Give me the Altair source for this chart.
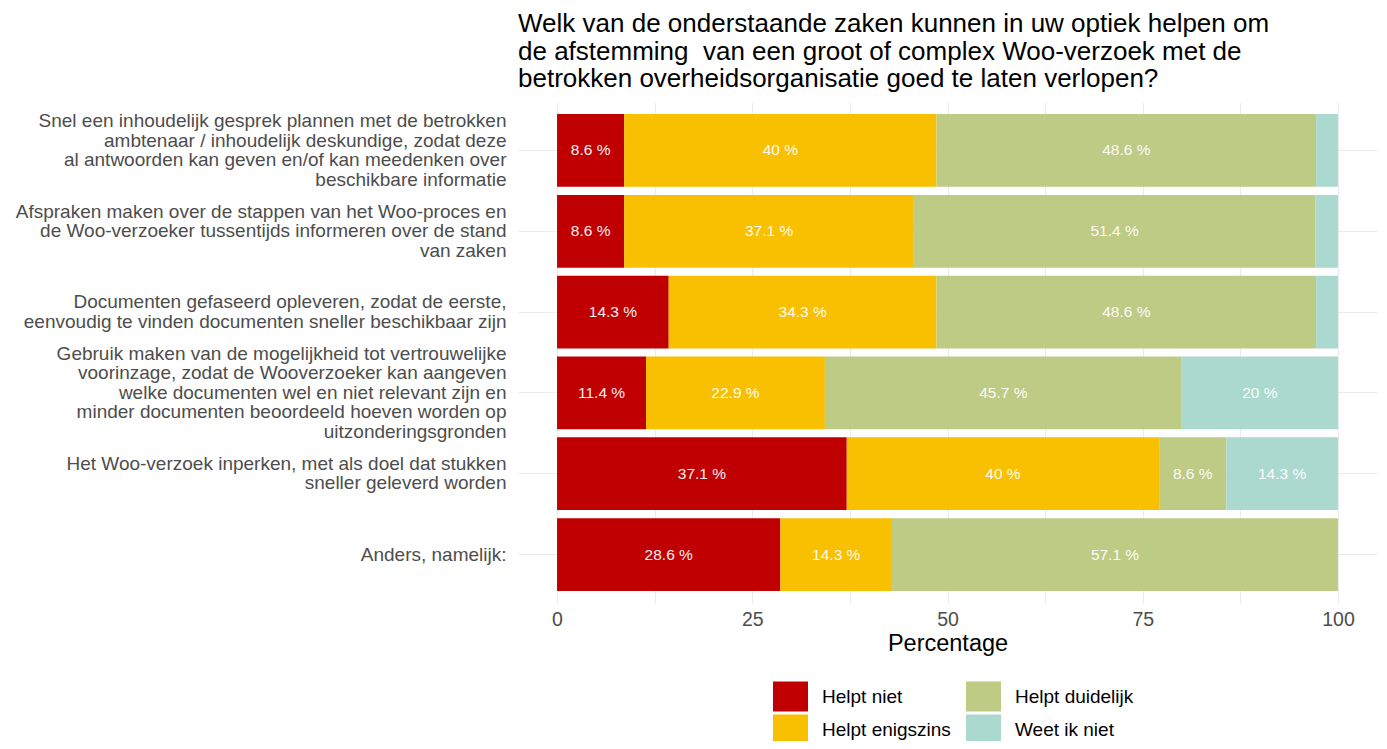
import altair as alt
import pandas as pd

questions = [
    "Snel een inhoudelijk gesprek plannen met de betrokken|ambtenaar / inhoudelijk deskundige, zodat deze|al antwoorden kan geven en/of kan meedenken over|beschikbare informatie",
    "Afspraken maken over de stappen van het Woo-proces en|de Woo-verzoeker tussentijds informeren over de stand|van zaken",
    "Documenten gefaseerd opleveren, zodat de eerste,|eenvoudig te vinden documenten sneller beschikbaar zijn",
    "Gebruik maken van de mogelijkheid tot vertrouwelijke|voorinzage, zodat de Wooverzoeker kan aangeven|welke documenten wel en niet relevant zijn en|minder documenten beoordeeld hoeven worden op|uitzonderingsgronden",
    "Het Woo-verzoek inperken, met als doel dat stukken|sneller geleverd worden",
    "Anders, namelijk:",
]
categories = ["Helpt niet", "Helpt enigszins", "Helpt duidelijk", "Weet ik niet"]
colors = ["#C00000", "#F8C000", "#BECB84", "#ABD9CF"]

helpt_niet = [8.6, 8.6, 14.3, 11.4, 37.1, 28.6]
helpt_enigszins = [40, 37.1, 34.3, 22.9, 40, 14.3]
helpt_duidelijk = [48.6, 51.4, 48.6, 45.7, 8.6, 57.1]
weet_ik_niet = [2.8, 2.9, 2.8, 20, 14.3, 0]

title_lines = [
    "Welk van de onderstaande zaken kunnen in uw optiek helpen om",
    "de afstemming\u00a0 van een groot of complex Woo-verzoek met de",
    "betrokken overheidsorganisatie goed te laten verlopen?",
]
x_ticks = [0, 12.5, 25, 37.5, 50, 62.5, 75, 87.5, 100]

series = [helpt_niet, helpt_enigszins, helpt_duidelijk, weet_ik_niet]
rows = []
for i, q in enumerate(questions):
    for j, (cat, vals) in enumerate(zip(categories, series)):
        rows.append({"vraag": q, "antwoord": cat, "volgorde": j, "pct": vals[i]})
df = pd.DataFrame(rows)

FONT = "Liberation Sans"
LINE_H = 19.5

y_enc = alt.Y(
    "vraag:N",
    sort=questions,
    title=None,
    scale=alt.Scale(paddingInner=0.1, paddingOuter=0.15),
    axis=alt.Axis(
        labelExpr="split(datum.label, '|')",
        labelFontSize=19,
        labelLineHeight=LINE_H,
        labelColor="#4D4D4D",
        labelFont=FONT,
        labelLimit=700,
        labelOffset={"expr": f"-(length(split(datum.value, '|')) - 1) * {LINE_H} / 2"},
        ticks=False,
        domain=False,
        grid=True,
        gridColor="#EBEBEB",
        gridWidth=1.1,
        labelPadding=12,
        bandPosition=0.5,
    ),
)

x_scale = alt.Scale(domain=[-5, 105], nice=False, zero=False)
x_enc = alt.X(
    "start:Q",
    scale=x_scale,
    title="Percentage",
    axis=alt.Axis(
        values=x_ticks,
        labelExpr="datum.value % 25 === 0 ? datum.label : ''",
        labelOverlap=False,
        grid=True,
        gridColor="#EBEBEB",
        gridWidth=1.1,
        ticks=False,
        domain=False,
        labelFontSize=19.5,
        labelColor="#4D4D4D",
        labelFont=FONT,
        labelPadding=7,
        titleFontSize=23.5,
        titleFontWeight="normal",
        titleColor="black",
        titleFont=FONT,
        titlePadding=3,
    ),
)


def make_legend(x):
    return alt.Legend(
        orient="none",
        legendX=x,
        legendY=577,
        title=None,
        direction="vertical",
        symbolType="M-1,-0.857H1V0.857H-1Z",
        symbolSize=1225,
        symbolStrokeWidth=0,
        symbolOpacity=1,
        labelFontSize=19,
        labelFont=FONT,
        labelColor="black",
        labelOffset=14,
        rowPadding=-2,
    )


base = (
    alt.Chart(df)
    .transform_window(
        cum="sum(pct)",
        groupby=["vraag"],
        sort=[alt.SortField("volgorde", order="ascending")],
        frame=[None, 0],
    )
    .transform_calculate(
        start="datum.cum - datum.pct",
        mid="datum.cum - datum.pct / 2",
        txt="datum.pct + ' %'",
    )
)

bars_a = base.transform_filter("datum.volgorde < 2").mark_bar().encode(
    x=x_enc,
    x2="cum:Q",
    y=y_enc,
    color=alt.Color(
        "antwoord:N",
        scale=alt.Scale(domain=categories[:2], range=colors[:2]),
        legend=make_legend(255),
    ),
)

bars_b = base.transform_filter("datum.volgorde >= 2").mark_bar().encode(
    x=x_enc,
    x2="cum:Q",
    y=y_enc,
    fill=alt.Fill(
        "antwoord:N",
        scale=alt.Scale(domain=categories[2:], range=colors[2:]),
        legend=make_legend(448),
    ),
)

labels = (
    base.transform_filter("datum.pct >= 5")
    .mark_text(color="white", fontSize=15.5, font=FONT, opacity=0.95)
    .encode(
        x=alt.X("mid:Q", scale=x_scale),
        y=alt.Y("vraag:N", sort=questions),
        text="txt:N",
    )
)

chart = (
    alt.layer(bars_a, bars_b, labels)
    .properties(
        width=859,
        height=501,
        autosize=alt.AutoSizeParams(type="none"),
        padding={"left": 510, "top": 94, "right": 2, "bottom": 138},
        title=alt.Title(
            text=title_lines,
            anchor="start",
            frame="group",
            fontSize=26,
            fontWeight="normal",
            color="black",
            font=FONT,
            lineHeight=27.5,
            offset=10,
        ),
    )
    .configure(font=FONT)
    .configure_view(strokeWidth=0, stroke="transparent")
)

chart.save("out.html", embed_options={"renderer": "svg", "actions": False})
